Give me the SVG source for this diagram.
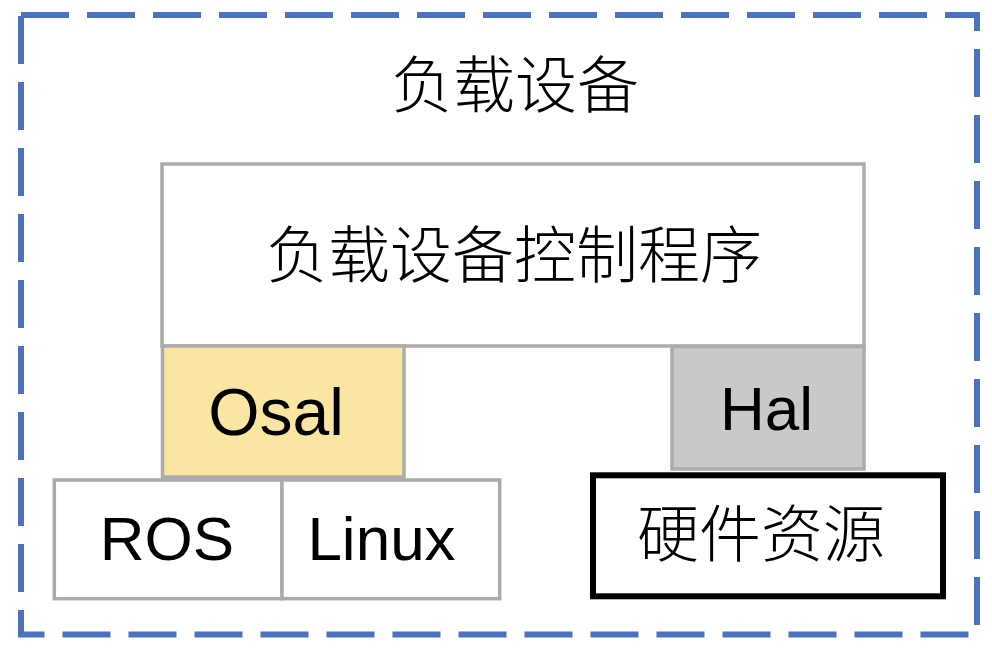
<svg xmlns="http://www.w3.org/2000/svg" width="992" height="652" viewBox="0 0 992 652">
<style>
.frame{fill:none;stroke:#4A72C0;stroke-width:6;stroke-dasharray:48 18}
.box{stroke:#ABABAB;stroke-width:3.5}
.hw{fill:#fff;stroke:#000;stroke-width:6}
.t{font-family:"Liberation Sans","Noto Sans CJK SC",sans-serif;font-size:62px;fill:#000;text-anchor:middle}
.c{font-family:"Noto Sans CJK SC",sans-serif;font-size:62px;font-weight:300;fill:#000;text-anchor:middle}
</style>
<rect width="992" height="652" fill="#fff"/>
<g id="frame">
<rect class="frame" x="21" y="15" width="956" height="619.5"/>
<text class="c" x="515" y="108">负载设备</text>
</g>
<g id="control">
<rect class="box" x="162" y="164" width="702" height="182" fill="#fff"/>
<text class="c" x="514" y="278">负载设备控制程序</text>
</g>
<g id="osal">
<rect class="box" x="162.5" y="346" width="241.5" height="131" fill="#FAE5A2"/>
<text class="t" x="276" y="435" style="font-size:66px">Osal</text>
</g>
<g id="hal">
<rect class="box" x="672" y="346.5" width="192" height="122.5" fill="#C9C9C9"/>
<text class="t" x="766.5" y="430">Hal</text>
</g>
<g id="ros">
<rect class="box" x="54.3" y="480" width="227.7" height="118.7" fill="#fff"/>
<text class="t" x="167" y="560">ROS</text>
</g>
<g id="linux">
<rect class="box" x="282" y="480" width="217.7" height="118.7" fill="#fff"/>
<text class="t" x="381.5" y="560">Linux</text>
</g>
<g id="hardware">
<rect class="hw" x="593" y="475.3" width="350" height="121"/>
<text class="c" x="761" y="556.5">硬件资源</text>
</g>
<g id="connectors"></g>
</svg>
